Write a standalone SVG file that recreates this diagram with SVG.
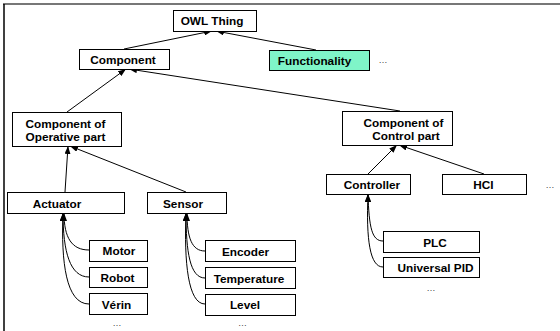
<svg xmlns="http://www.w3.org/2000/svg" width="560" height="331" viewBox="0 0 560 331">
<defs>
<marker id="ah" viewBox="0 0 8 6" refX="8" refY="3" markerWidth="8" markerHeight="6" markerUnits="userSpaceOnUse" orient="auto">
<path d="M0,0 L8,3 L0,6 z" fill="#000"/>
</marker>
<style>
.box{fill:#fff;stroke:#000;stroke-width:1}
.fn{fill:#7ff5c8;stroke:#000;stroke-width:1}
.t{font-family:"Liberation Sans",Arial,sans-serif;font-weight:bold;font-size:11.8px;fill:#000;text-anchor:middle}
.d{font-family:"Liberation Sans",Arial,sans-serif;font-size:9px;fill:#444;text-anchor:middle}
.c{fill:none;stroke:#000;stroke-width:1;marker-end:url(#ah)}
</style>
</defs>
<rect width="560" height="331" fill="#fff"/>
<g id="frame">
<line x1="3" y1="4" x2="560" y2="4" stroke="#777" stroke-width="2"/>
<line x1="4" y1="4" x2="4" y2="331" stroke="#000" stroke-width="1.5"/>
</g>
<g id="connectors">
<line class="c" x1="124" y1="49" x2="212" y2="31"/>
<line class="c" x1="316" y1="50" x2="216" y2="31"/>
<line class="c" x1="67" y1="112" x2="126" y2="69"/>
<line class="c" x1="400" y1="111" x2="129" y2="69"/>
<line class="c" x1="65" y1="192" x2="68" y2="146"/>
<line class="c" x1="186" y1="192" x2="70" y2="146"/>
<line class="c" x1="368" y1="174" x2="397" y2="145"/>
<line class="c" x1="484" y1="174" x2="399" y2="145"/>
<path class="c" d="M89,250 C72,250 64,238 64,213"/>
<path class="c" d="M89,277 C70,277 63,252 63,213"/>
<path class="c" d="M89,304 C66,304 61,262 63,213"/>
<path class="c" d="M205,251 C192,251 187,238 187,213"/>
<path class="c" d="M205,278 C190,278 186,252 186,213"/>
<path class="c" d="M205,304 C188,304 184,262 186,213"/>
<path class="c" d="M383,241 C372,241 369,228 368,194"/>
<path class="c" d="M383,267 C370,267 366,240 368,194"/>
</g>
<g id="owl"><rect class="box" x="173.5" y="10.5" width="83" height="21"/><text class="t" x="212" y="25">OWL Thing</text></g>
<g id="component"><rect class="box" x="79.5" y="49.5" width="90" height="20"/><text class="t" x="123" y="63.5">Component</text></g>
<g id="functionality"><rect class="fn" x="269.5" y="50.5" width="100" height="20"/><text class="t" x="314.5" y="65">Functionality</text><text class="d" x="383" y="63">…</text></g>
<g id="operative"><rect class="box" x="12.5" y="112.5" width="109" height="34"/><text class="t" x="65.5" y="128">Component of</text><text class="t" x="65.5" y="141">Operative part</text></g>
<g id="control"><rect class="box" x="342.5" y="111.5" width="110" height="34"/><text class="t" x="403.5" y="127">Component of</text><text class="t" x="406" y="139.5">Control part</text></g>
<g id="actuator"><rect class="box" x="7.5" y="192.5" width="117" height="21"/><text class="t" x="57" y="207.5">Actuator</text></g>
<g id="sensor"><rect class="box" x="147.5" y="192.5" width="79" height="21"/><text class="t" x="183" y="207.5">Sensor</text></g>
<g id="controller"><rect class="box" x="326.5" y="174.5" width="84" height="20"/><text class="t" x="372" y="189">Controller</text></g>
<g id="hci"><rect class="box" x="442.5" y="174.5" width="84" height="20"/><text class="t" x="483.5" y="189">HCI</text><text class="d" x="550" y="188">…</text></g>
<g id="motor"><rect class="box" x="89.5" y="240.5" width="58" height="21"/><text class="t" x="119" y="255">Motor</text></g>
<g id="robot"><rect class="box" x="89.5" y="267.5" width="58" height="20"/><text class="t" x="117.5" y="282">Robot</text></g>
<g id="verin"><rect class="box" x="89.5" y="293.5" width="58" height="21"/><text class="t" x="116.5" y="308.5">Vérin</text><text class="d" x="117" y="326">…</text></g>
<g id="encoder"><rect class="box" x="205.5" y="240.5" width="90" height="21"/><text class="t" x="245.5" y="256">Encoder</text></g>
<g id="temperature"><rect class="box" x="205.5" y="267.5" width="90" height="21"/><text class="t" x="249" y="282.5">Temperature</text></g>
<g id="level"><rect class="box" x="205.5" y="294.5" width="90" height="21"/><text class="t" x="245" y="309">Level</text><text class="d" x="242.5" y="326">…</text></g>
<g id="plc"><rect class="box" x="383.5" y="231.5" width="96" height="21"/><text class="t" x="435" y="246.5">PLC</text></g>
<g id="pid"><rect class="box" x="383.5" y="257.5" width="96" height="20"/><text class="t" x="435.5" y="272">Universal PID</text><text class="d" x="431" y="291">…</text></g>
</svg>
